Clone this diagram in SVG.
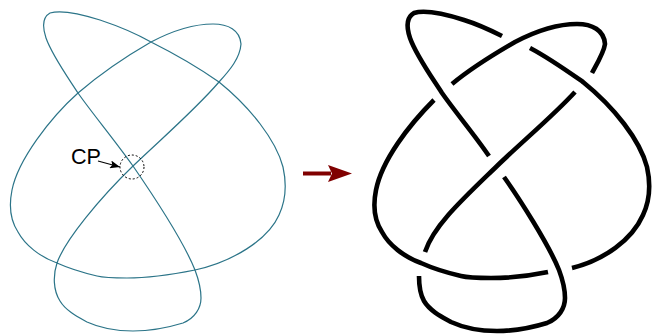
<svg xmlns="http://www.w3.org/2000/svg" width="652" height="334" viewBox="0 0 652 334">
<style>
.t{fill:none;stroke:#2b7488;stroke-width:1.2}
.k{fill:none;stroke:#000;stroke-width:4.6;stroke-linejoin:round}
</style>
<defs>
<marker id="a" markerUnits="userSpaceOnUse" markerWidth="12" markerHeight="8" refX="10" refY="4" orient="auto"><path d="M0 0L10 4L0 8L2 4Z" fill="#000"/></marker>
</defs>
<g id="curve">
<path class="t" d="M133 166C113 138 92 113 78 93C65 73 52 55 46 38C42 26 43 17 50 13C60 10 78 13 100 20C118 26 135 33 151 42C175 54 199 68 219 82C250 107 276 140 283 167C287 185 286 200 279 215C268 240 232 262 195 270C170 275 145 278 127 278C115 278 105 278 97 276C80 272 68 268 57 263C40 257 25 245 18 232C10 220 9 205 12 190C18 160 50 118 78 93C100 74 125 57 151 42C172 31 195 24 213 24C228 24 240 30 241 44C240 58 230 70 219 82C195 110 160 140 133 166C100 198 65 240 57 263C53 275 53 290 60 301C66 311 78 317 87 322C100 328 115 331 133 331C150 331 170 327 183 323C195 318 201 308 201 298C201 288 198 278 195 270C185 245 155 198 133 166Z"/>
</g>
<g id="cp">
<circle cx="132" cy="167" r="12" fill="none" stroke="#000" stroke-width="1" stroke-dasharray="2 2"/>
<text x="71" y="164" font-family="'Liberation Sans',Arial,sans-serif" font-size="21.6" fill="#000">CP</text>
<path d="M98 161L120 167" stroke="#000" stroke-width="1.2" fill="none" marker-end="url(#a)"/>
</g>
<g id="connectors">
<path d="M303 173.500H331" stroke="#800000" stroke-width="4" fill="none"/>
<path d="M328 165L352 173.500L328 182L332 173.500Z" fill="#800000"/>
</g>
<g id="knot" transform="translate(364 0)">
<path class="k" d="M125 156C110 134 92 113 78 93C65 73 52 55 46 38C42 26 43 17 50 13C60 10 78 13 100 20C113 24 126 30 138 36"/>
<path class="k" d="M70 100C45 125 18 160 12 190C9 205 10 220 18 232C25 245 40 257 57 263C68 268 80 272 97 276C105 278 115 278 127 278C145 278 165 276 184 272"/>
<path class="k" d="M88 84C100 74 125 57 151 42C172 31 195 24 213 24C228 24 240 30 241 44C240 52 234 62 228 73"/>
<path class="k" d="M166 48C185 58 199 68 219 82C250 107 276 140 283 167C287 185 286 200 279 215C268 240 240 260 208 268"/>
<path class="k" d="M211 92C190 115 160 140 133 166C100 198 70 225 61 252"/>
<path class="k" d="M140 177C155 198 185 245 195 270C198 278 201 288 201 298C201 308 195 318 183 323C170 327 150 331 133 331C115 331 100 328 87 322C78 317 66 311 60 301C56 294 55 285 55 276"/>
</g>
</svg>
